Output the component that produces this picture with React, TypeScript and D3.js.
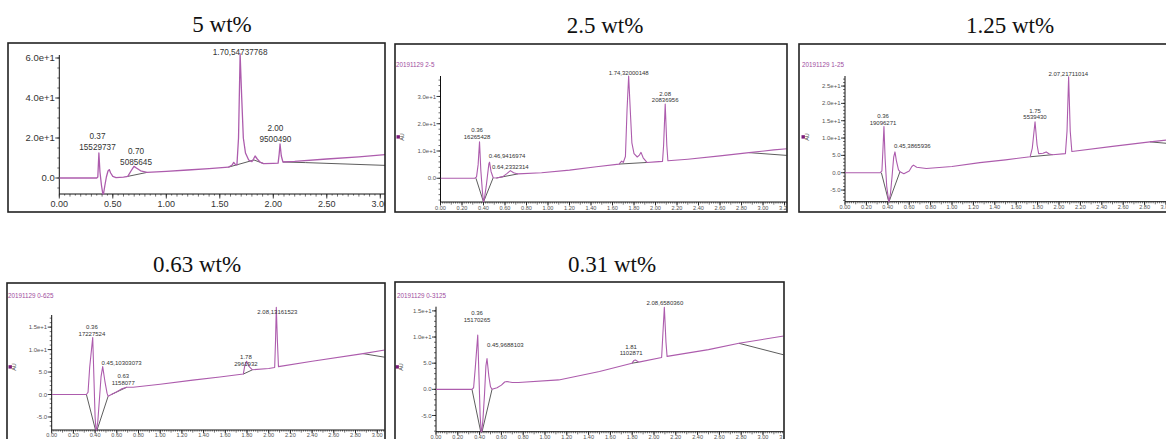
import React from "react";
import * as d3 from "d3";

type Pt = [number, number];
type Label = { t: number; v: number; lines: string[]; anchor: "middle" | "start" };

// ---------- Panel 1 : 5 wt% ----------
const p1Signal: Pt[] = [
  [0, 0], [0.35, 0], [0.36, 0.5], [0.37, 12.5], [0.38, 3], [0.395, -4], [0.41, -9], [0.425, -4],
  [0.44, 0.5], [0.455, 3.5], [0.467, 4.2], [0.48, 2.5], [0.5, 0.8], [0.53, 0.2], [0.6, 0.4],
  [0.64, 0.8], [0.67, 3.5], [0.698, 5.8], [0.72, 5], [0.76, 3.6], [0.82, 2.8], [1.0, 3.3],
  [1.2, 4.0], [1.4, 4.7], [1.58, 5.4], [1.615, 6.5], [1.63, 7.8], [1.645, 6.8], [1.66, 6.5],
  [1.675, 20], [1.69, 62], [1.705, 40], [1.72, 20], [1.74, 12.5], [1.77, 9], [1.8, 8.2],
  [1.815, 9.5], [1.83, 11], [1.85, 9.5], [1.88, 7.8], [1.91, 7.2], [2.0, 7.3], [2.045, 7.4],
  [2.055, 12], [2.063, 17], [2.075, 11], [2.09, 8], [2.2, 8.3], [2.5, 9.5], [2.8, 10.6], [3.05, 11.7],
];
const p1Baselines: Pt[][] = [
  [[0.63, 0.7], [0.82, 2.8]],
  [[1.58, 5.4], [1.82, 9.0], [1.91, 7.2]],
  [[2.09, 8], [2.3, 7.7], [3.05, 6.3]],
];
const p1Labels: Label[] = [
  { t: 0.357, v: 15.3, lines: ["0.37", "15529737"], anchor: "middle" },
  { t: 0.717, v: 7.8, lines: ["0.70", "5085645"], anchor: "middle" },
  { t: 1.69, v: 62.8, lines: ["1.70,54737768"], anchor: "middle" },
  { t: 2.02, v: 19.5, lines: ["2.00", "9500490"], anchor: "middle" },
];
const p1YTicks = [0, 20, 40, 60];
const p1YTickLabels = ["0.0", "2.0e+1", "4.0e+1", "6.0e+1"];
const p1XTicks = [0, 0.5, 1, 1.5, 2, 2.5, 3];
const p1XTickLabels = ["0.00", "0.50", "1.00", "1.50", "2.00", "2.50", "3.00"];

// ---------- Panel 2 : 2.5 wt% ----------
const p2Signal: Pt[] = [
  [0, 0], [0.32, 0], [0.335, 0.5], [0.35, 5], [0.363, 13.4], [0.375, 3], [0.39, -5], [0.4, -8.7],
  [0.41, -7], [0.425, -3], [0.44, 2], [0.45, 5.3], [0.456, 5.9], [0.47, 2.5], [0.49, 0.2],
  [0.52, 0.1], [0.58, 0.6], [0.62, 1.8], [0.65, 2.8], [0.68, 2.0], [0.72, 1.6], [0.94, 2.0],
  [1.2, 3.0], [1.45, 4.2], [1.66, 5.2], [1.685, 6.3], [1.7, 5.8], [1.72, 8], [1.735, 25],
  [1.75, 37.5], [1.765, 25], [1.78, 13], [1.8, 9], [1.83, 7.8], [1.85, 8.5], [1.865, 9.5],
  [1.885, 7.5], [1.92, 5.8], [2.0, 6.0], [2.065, 6.2], [2.075, 12], [2.09, 27.2], [2.105, 12],
  [2.115, 6.4], [2.3, 7.0], [2.6, 8.2], [2.87, 9.4], [3.1, 10.4], [3.25, 10.9],
];
const p2Baselines: Pt[][] = [
  [[0.33, 0], [0.4, -8.7], [0.49, 0.2]],
  [[0.52, 0.1], [0.72, 1.6]],
  [[1.66, 5.2], [1.92, 5.8]],
  [[2.87, 9.4], [3.25, 8.3]],
];
const p2Labels: Label[] = [
  { t: 0.34, v: 15.2, lines: ["0.36", "16265428"], anchor: "middle" },
  { t: 0.448, v: 8.2, lines: ["0.46,9416974"], anchor: "start" },
  { t: 0.479, v: 4.2, lines: ["0.64,2332314"], anchor: "start" },
  { t: 1.75, v: 38.8, lines: ["1.74,32000148"], anchor: "middle" },
  { t: 2.09, v: 28.7, lines: ["2.08", "20836956"], anchor: "middle" },
];
const p2YTicks = [0, 10, 20, 30];
const p2YTickLabels = ["0.0", "1.0e+1", "2.0e+1", "3.0e+1"];

// ---------- Panel 3 : 1.25 wt% ----------
const p3Signal: Pt[] = [
  [0, 0], [0.33, 0], [0.345, 0.5], [0.355, 7], [0.364, 13.3], [0.375, 4], [0.39, -4], [0.41, -8.5],
  [0.425, -6], [0.44, -1], [0.455, 4.5], [0.467, 6], [0.48, 3.5], [0.5, 0.8], [0.514, 0.3],
  [0.55, -0.3], [0.6, 0.5], [0.625, 1.8], [0.64, 2.2], [0.67, 1.6], [0.76, 1.2], [1.0, 1.8],
  [1.26, 2.9], [1.5, 3.7], [1.73, 4.6], [1.75, 7], [1.776, 14.7], [1.795, 8], [1.81, 5.5],
  [1.85, 5.6], [1.88, 6], [1.91, 5.4], [1.94, 5.2], [2.06, 5.5], [2.075, 12], [2.09, 27.7],
  [2.105, 12], [2.12, 6.1], [2.5, 7.6], [2.85, 8.9], [3.0, 9.4],
];
const p3Baselines: Pt[][] = [
  [[0.34, 0], [0.41, -8.5], [0.514, 0.3]],
  [[1.73, 4.6], [1.94, 5.2]],
  [[2.85, 8.9], [3.0, 8.5]],
];
const p3Labels: Label[] = [
  { t: 0.355, v: 14.5, lines: ["0.36", "19096271"], anchor: "middle" },
  { t: 0.458, v: 7.7, lines: ["0.45,3865936"], anchor: "start" },
  { t: 1.776, v: 16.0, lines: ["1.75", "5539430"], anchor: "middle" },
  { t: 2.087, v: 28.4, lines: ["2.07,21711014"], anchor: "middle" },
];
const p3YTicks = [-5, 0, 5, 10, 15, 20, 25];
const p3YTickLabels = ["-5.0", "0.0", "5.0", "1.0e+1", "1.5e+1", "2.0e+1", "2.5e+1"];

// ---------- Panel 4 : 0.63 wt% ----------
const p4Signal: Pt[] = [
  [0, 0], [0.32, 0], [0.335, 0.5], [0.35, 6], [0.378, 12.7], [0.39, 3], [0.4, -5], [0.41, -8.5],
  [0.425, -6], [0.44, -1], [0.455, 4], [0.47, 6.2], [0.49, 3], [0.51, 0.3], [0.52, -0.4],
  [0.55, 0], [0.6, 0.6], [0.64, 1.2], [0.69, 1.6], [0.75, 1.6], [1.0, 2.3], [1.3, 3.2],
  [1.55, 3.9], [1.766, 4.55], [1.78, 6.5], [1.796, 7.4], [1.82, 6.2], [1.85, 5.5], [2.0, 5.8],
  [2.055, 6.0], [2.063, 12], [2.07, 19.4], [2.08, 12], [2.09, 6.2], [2.4, 7.4], [2.87, 9.1], [3.07, 9.9],
];
const p4Baselines: Pt[][] = [
  [[0.32, 0], [0.41, -8.5], [0.52, -0.4]],
  [[0.55, 0], [0.69, 1.6]],
  [[1.766, 4.55], [1.85, 5.5]],
  [[2.87, 9.1], [3.07, 8.3]],
];
const p4Labels: Label[] = [
  { t: 0.371, v: 13.6, lines: ["0.36", "17227524"], anchor: "middle" },
  { t: 0.46, v: 7.1, lines: ["0.45,10303073"], anchor: "start" },
  { t: 0.66, v: 2.6, lines: ["0.63", "1158077"], anchor: "middle" },
  { t: 1.79, v: 6.8, lines: ["1.78", "2961932"], anchor: "middle" },
  { t: 2.08, v: 18.4, lines: ["2.08,13161523"], anchor: "middle" },
];
const p4YTicks = [-5, 0, 5, 10, 15];
const p4YTickLabels = ["-5.0", "0.0", "5.0", "1.0e+1", "1.5e+1"];

// ---------- Panel 5 : 0.31 wt% ----------
const p5Signal: Pt[] = [
  [0, 0], [0.33, 0], [0.345, 0.3], [0.36, 4], [0.383, 10.4], [0.395, 2], [0.405, -5], [0.416, -8.7],
  [0.43, -6], [0.445, -1], [0.458, 4.5], [0.468, 5.9], [0.485, 2.5], [0.5, 0.5], [0.514, 0],
  [0.56, 0.3], [0.6, 0.8], [0.63, 1.4], [0.651, 1.5], [0.7, 1.3], [0.757, 1.3], [1.126, 1.8],
  [1.5, 3.4], [1.798, 5.0], [1.815, 5.5], [1.83, 5.6], [1.86, 5.2], [2.07, 6.1], [2.08, 10],
  [2.095, 15.7], [2.11, 9], [2.12, 6.3], [2.5, 7.6], [2.78, 8.8], [3.19, 10.2],
];
const p5Baselines: Pt[][] = [
  [[0.33, 0], [0.416, -8.7], [0.514, 0]],
  [[1.798, 5.0], [1.86, 5.2]],
  [[2.78, 8.8], [3.19, 6.6]],
];
const p5Labels: Label[] = [
  { t: 0.376, v: 13.3, lines: ["0.36", "15170265"], anchor: "middle" },
  { t: 0.468, v: 8.5, lines: ["0.45,9688103"], anchor: "start" },
  { t: 1.79, v: 6.9, lines: ["1.81", "1102871"], anchor: "middle" },
  { t: 2.1, v: 16.5, lines: ["2.08,6580360"], anchor: "middle" },
];
const p5YTicks = [-5, 0, 5, 10, 15];
const p5YTickLabels = ["-5.0", "0.0", "5.0", "1.0e+1", "1.5e+1"];

// shared x ticks for the small panels
const smallXTicks = [0, 0.2, 0.4, 0.6, 0.8, 1.0, 1.2, 1.4, 1.6, 1.8, 2.0, 2.2, 2.4, 2.6, 2.8, 3.0, 3.2];
const smallXTickLabels = ["0.00", "0.20", "0.40", "0.60", "0.80", "1.00", "1.20", "1.40", "1.60", "1.80", "2.00", "2.20", "2.40", "2.60", "2.80", "3.00", "3.20"];

const titles = ["5 wt%", "2.5 wt%", "1.25 wt%", "0.63 wt%", "0.31 wt%"];
const headers = ["", "20191129 2-5", "20191129 1-25", "20191129 0-625", "20191129 0-3125"];

const SANS = "'Liberation Sans', Arial, Helvetica, sans-serif";
const SERIF = "'Liberation Serif', 'Times New Roman', serif";
const PURPLE = "#ad5cad";
const HEADER_PURPLE = "#a04ca0";

type Cfg = {
  key: string;
  title: string;
  titleX: number;
  titleY: number;
  frame: [number, number, number, number];
  xDomain: [number, number];
  xRange: [number, number];
  yDomain: [number, number];
  yRange: [number, number];
  signal: Pt[];
  baselines: Pt[][];
  labels: Label[];
  yTicks: number[];
  yTickLabels: string[];
  yMinor: number;
  xTicks: number[];
  xTickLabels: string[];
  xMinor: number;
  xMid: number;
  header: string;
  headerPos: [number, number] | null;
  auPos: [number, number] | null;
  tickFont: number;
  yTickFont: number;
  labelFont: number;
  lineGap: number;
  xLabelDy: number;
  big: boolean;
};

const panels: Cfg[] = [
  {
    key: "p1", title: titles[0], titleX: 222, titleY: 32, frame: [8, 43, 377, 169],
    xDomain: [0, 3.044], xRange: [59.3, 385], yDomain: [-8, 61.5], yRange: [194, 55],
    signal: p1Signal, baselines: p1Baselines, labels: p1Labels,
    yTicks: p1YTicks, yTickLabels: p1YTickLabels, yMinor: 5,
    xTicks: p1XTicks, xTickLabels: p1XTickLabels, xMinor: 0.05, xMid: 0.1,
    header: headers[0], headerPos: null, auPos: null,
    tickFont: 9, yTickFont: 9.5, labelFont: 8.2, lineGap: 11, xLabelDy: 13, big: true,
  },
  {
    key: "p2", title: titles[1], titleX: 605, titleY: 33, frame: [395, 44, 392, 168],
    xDomain: [0, 3.22], xRange: [440.5, 786.7], yDomain: [-8.7, 37.5], yRange: [202, 76],
    signal: p2Signal, baselines: p2Baselines, labels: p2Labels,
    yTicks: p2YTicks, yTickLabels: p2YTickLabels, yMinor: 2,
    xTicks: smallXTicks, xTickLabels: smallXTickLabels, xMinor: 0.02, xMid: 0.1,
    header: headers[1], headerPos: [396, 67], auPos: [398, 137],
    tickFont: 5.6, yTickFont: 6, labelFont: 6, lineGap: 6.6, xLabelDy: 7.5, big: false,
  },
  {
    key: "p3", title: titles[2], titleX: 1010, titleY: 33, frame: [799, 44, 372, 168],
    xDomain: [0, 3.0], xRange: [845, 1166], yDomain: [-8.36, 27.9], yRange: [201.7, 76],
    signal: p3Signal, baselines: p3Baselines, labels: p3Labels,
    yTicks: p3YTicks, yTickLabels: p3YTickLabels, yMinor: 1,
    xTicks: smallXTicks, xTickLabels: smallXTickLabels, xMinor: 0.02, xMid: 0.1,
    header: headers[2], headerPos: [802, 67], auPos: [803, 137],
    tickFont: 5.6, yTickFont: 6, labelFont: 6, lineGap: 6.3, xLabelDy: 7.5, big: false,
  },
  {
    key: "p4", title: titles[3], titleX: 197, titleY: 272, frame: [7, 283, 378, 162],
    xDomain: [0, 3.07], xRange: [51.7, 384.8], yDomain: [-7.9, 17.7], yRange: [430, 315],
    signal: p4Signal, baselines: p4Baselines, labels: p4Labels,
    yTicks: p4YTicks, yTickLabels: p4YTickLabels, yMinor: 1,
    xTicks: smallXTicks, xTickLabels: smallXTickLabels, xMinor: 0.02, xMid: 0.1,
    header: headers[3], headerPos: [8, 298], auPos: [10, 367],
    tickFont: 5.6, yTickFont: 6, labelFont: 6, lineGap: 6.8, xLabelDy: 7.2, big: false,
  },
  {
    key: "p5", title: titles[4], titleX: 612, titleY: 272, frame: [395, 282, 389, 162],
    xDomain: [0, 3.19], xRange: [436, 783.7], yDomain: [-8.1, 15.8], yRange: [431.7, 306.7],
    signal: p5Signal, baselines: p5Baselines, labels: p5Labels,
    yTicks: p5YTicks, yTickLabels: p5YTickLabels, yMinor: 1,
    xTicks: smallXTicks, xTickLabels: smallXTickLabels, xMinor: 0.02, xMid: 0.1,
    header: headers[4], headerPos: [397, 298], auPos: [397, 367],
    tickFont: 5.6, yTickFont: 6, labelFont: 6, lineGap: 6.7, xLabelDy: 6.8, big: false,
  },
];

function Panel({ c }: { c: Cfg }) {
  const x = d3.scaleLinear().domain(c.xDomain).range(c.xRange);
  const y = d3.scaleLinear().domain(c.yDomain).range(c.yRange);
  const line = d3.line<Pt>().x((d) => x(d[0])).y((d) => y(d[1]));
  const [fx, fy, fw, fh] = c.frame;
  const x0 = c.xRange[0];
  const x1 = c.xRange[1];
  const yb = c.yRange[0];
  const yt = c.yRange[1];
  const frameClip = `fc-${c.key}`;
  const plotClip = `pc-${c.key}`;

  const yMinorTicks = d3.range(
    Math.ceil(c.yDomain[0] / c.yMinor) * c.yMinor,
    c.yDomain[1] + 1e-9,
    c.yMinor
  );
  const xMinorTicks = d3.range(0, c.xDomain[1] + 1e-9, c.xMinor);
  const axisColor = "#111";
  const textColor = c.big ? "#333" : "#555";
  const visibleXTicks = c.xTicks
    .map((t, i) => ({ t, label: c.xTickLabels[i] }))
    .filter((d) => d.t <= c.xDomain[1] + 0.02);

  return (
    <g>
      <text
        x={c.titleX}
        y={c.titleY}
        textAnchor="middle"
        fontFamily={SERIF}
        fontSize={23}
        fill="#111"
      >
        {c.title}
      </text>
      <defs>
        <clipPath id={frameClip}>
          <rect x={fx} y={fy} width={fw} height={fh} />
        </clipPath>
        <clipPath id={plotClip}>
          <rect x={x0} y={fy} width={x1 - x0} height={yb - fy + 0.5} />
        </clipPath>
      </defs>
      <rect x={fx} y={fy} width={fw} height={fh} fill="#fff" />
      <g clipPath={`url(#${frameClip})`}>
        {c.headerPos && (
          <text
            x={c.headerPos[0]}
            y={c.headerPos[1]}
            fontFamily={SANS}
            fontSize={6.3}
            fill={HEADER_PURPLE}
          >
            {c.header}
          </text>
        )}
        {c.auPos && (
          <g>
            <rect x={c.auPos[0] - 1.5} y={c.auPos[1] - 1.8} width={3.4} height={3.4} fill="#7a1a7a" />
            <text
              transform={`translate(${c.auPos[0] + 5.8},${c.auPos[1]}) rotate(-90)`}
              textAnchor="middle"
              fontFamily={SANS}
              fontSize={5.5}
              fill="#444"
            >
              AU
            </text>
          </g>
        )}
        {/* y axis */}
        <line x1={x0} x2={x0} y1={yt} y2={yb} stroke={axisColor} strokeWidth={1} />
        {yMinorTicks.map((v, i) => (
          <line key={`ym${i}`} x1={x0 - 2} x2={x0} y1={y(v)} y2={y(v)} stroke={axisColor} strokeWidth={0.6} />
        ))}
        {c.yTicks.map((v, i) => (
          <g key={`yt${i}`}>
            <line x1={x0 - 4} x2={x0} y1={y(v)} y2={y(v)} stroke={axisColor} strokeWidth={0.8} />
            <text
              x={x0 - 4.5}
              y={y(v) + c.yTickFont * 0.35}
              textAnchor="end"
              fontFamily={SANS}
              fontSize={c.yTickFont}
              fill={textColor}
            >
              {c.yTickLabels[i]}
            </text>
          </g>
        ))}
        {/* x axis */}
        <line x1={x0} x2={x1} y1={yb} y2={yb} stroke={axisColor} strokeWidth={1} />
        {xMinorTicks.map((t, i) => {
          const isMid = Math.abs(t / c.xMid - Math.round(t / c.xMid)) < 1e-6;
          return (
            <line
              key={`xm${i}`}
              x1={x(t)}
              x2={x(t)}
              y1={yb}
              y2={yb + (isMid ? 2.6 : 1.6)}
              stroke={axisColor}
              strokeWidth={0.6}
            />
          );
        })}
        {visibleXTicks.map((d, i) => (
          <g key={`xt${i}`}>
            <line x1={x(d.t)} x2={x(d.t)} y1={yb} y2={yb + (c.big ? 4.5 : 3.5)} stroke={axisColor} strokeWidth={0.8} />
            <text
              x={x(d.t)}
              y={yb + c.xLabelDy}
              textAnchor="middle"
              fontFamily={SANS}
              fontSize={c.tickFont}
              fill={textColor}
            >
              {d.label}
            </text>
          </g>
        ))}
        {/* curves */}
        <g clipPath={`url(#${plotClip})`}>
          {c.baselines.map((seg, i) => (
            <path key={`b${i}`} d={line(seg) || ""} fill="none" stroke="#333" strokeWidth={0.8} />
          ))}
          <path d={line(c.signal) || ""} fill="none" stroke={PURPLE} strokeWidth={c.big ? 1.3 : 1.1} strokeLinejoin="round" />
        </g>
        {/* peak labels */}
        {c.labels.map((l, i) => (
          <text
            key={`l${i}`}
            textAnchor={l.anchor}
            fontFamily={SANS}
            fontSize={c.labelFont}
            fill="#333"
          >
            {l.lines.map((s, j) => (
              <tspan
                key={j}
                x={x(l.t)}
                y={y(l.v) + c.labelFont * 0.35 - (l.lines.length - 1 - j) * c.lineGap}
              >
                {s}
              </tspan>
            ))}
          </text>
        ))}
      </g>
      <rect x={fx} y={fy} width={fw} height={fh} fill="none" stroke="#222" strokeWidth={1.6} />
    </g>
  );
}

export default function App() {
  return (
    <svg
      width={1166}
      height={439}
      viewBox="0 0 1166 439"
      style={{ position: "absolute", left: 0, top: 0, background: "#fff" }}
    >
      <rect x={0} y={0} width={1166} height={439} fill="#fff" />
      {panels.map((c) => (
        <Panel key={c.key} c={c} />
      ))}
    </svg>
  );
}
